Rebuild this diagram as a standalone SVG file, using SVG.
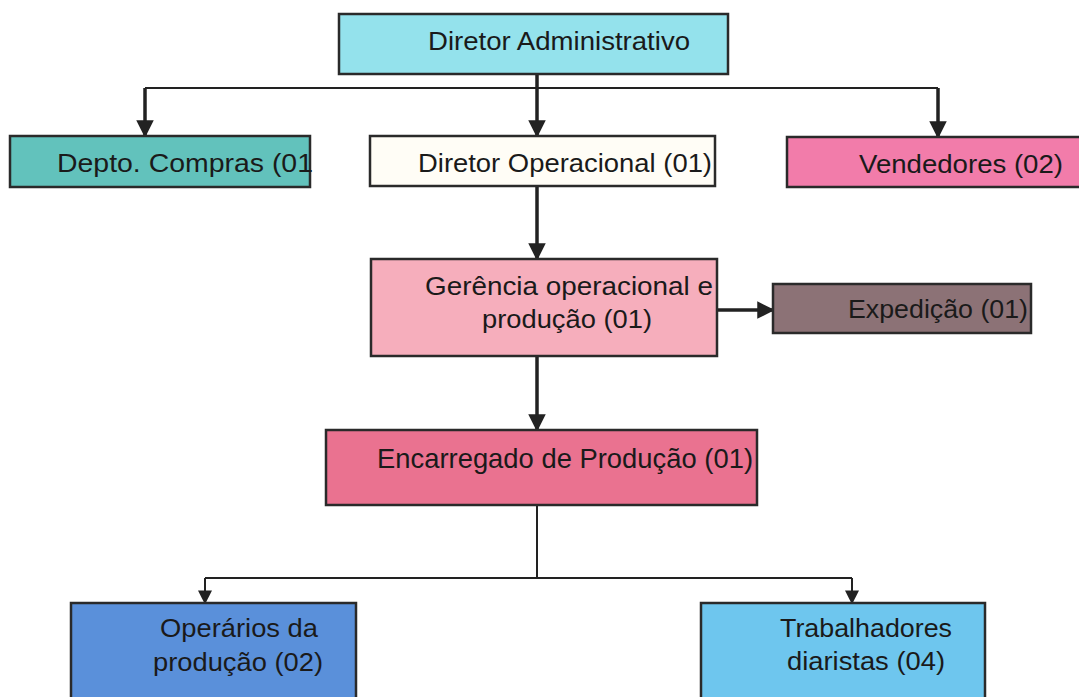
<svg xmlns="http://www.w3.org/2000/svg" width="1079" height="697" viewBox="0 0 1079 697">
<defs>
<marker id="ah" viewBox="0 0 10 10" refX="9" refY="5" markerWidth="5" markerHeight="5" orient="auto" markerUnits="strokeWidth">
<path d="M0,0 L10,5 L0,10 Z" fill="#222"/>
</marker>
<marker id="ah2" viewBox="0 0 10 10" refX="9" refY="5" markerWidth="7" markerHeight="7" orient="auto" markerUnits="strokeWidth">
<path d="M0,0 L10,5 L0,10 Z" fill="#222"/>
</marker>
</defs>
<style>
.box{stroke:#2a2a2a;stroke-width:2.5}
.t{font-family:"Liberation Sans",Arial,sans-serif;fill:#1a1a1a;font-size:26px}
.c{fill:none;stroke:#222;stroke-width:3.5}
.c2{fill:none;stroke:#222;stroke-width:2}
</style>
<rect width="1079" height="697" fill="#ffffff"/>
<g id="connectors">
<path class="c2" d="M145,88 H938"/>
<path class="c" d="M537,74 V136" marker-end="url(#ah)"/>
<path class="c" d="M145,88 V136" marker-end="url(#ah)"/>
<path class="c" d="M938,88 V137" marker-end="url(#ah)"/>
<path class="c" d="M537,186 V259" marker-end="url(#ah)"/>
<path class="c" d="M717,310 H773" marker-end="url(#ah)"/>
<path class="c" d="M537,356 V430" marker-end="url(#ah)"/>
<path class="c2" d="M537,505 V578 M205,578 H852"/>
<path class="c2" d="M205,578 V603" marker-end="url(#ah2)"/>
<path class="c2" d="M852,578 V603" marker-end="url(#ah2)"/>
</g>
<g id="diretor-administrativo">
<rect class="box" x="339" y="14" width="389" height="60" fill="#94e2ec"/>
<text class="t" x="428" y="50" textLength="262" lengthAdjust="spacingAndGlyphs">Diretor Administrativo</text>
</g>
<g id="depto-compras">
<rect class="box" x="10" y="136" width="300" height="51" fill="#62c2bc"/>
<text class="t" x="57" y="172" textLength="256" lengthAdjust="spacingAndGlyphs">Depto. Compras (01</text>
</g>
<g id="diretor-operacional">
<rect class="box" x="370" y="136" width="345" height="50" fill="#fffdf6"/>
<text class="t" x="418" y="172" textLength="294" lengthAdjust="spacingAndGlyphs">Diretor Operacional (01)</text>
</g>
<g id="vendedores">
<rect class="box" x="787" y="137" width="300" height="50" fill="#f27caa"/>
<text class="t" x="859" y="173" textLength="204" lengthAdjust="spacingAndGlyphs">Vendedores (02)</text>
</g>
<g id="gerencia">
<rect class="box" x="371" y="259" width="346" height="97" fill="#f6aebc"/>
<text class="t" x="425" y="295" textLength="288" lengthAdjust="spacingAndGlyphs">Gerência operacional e</text>
<text class="t" x="482" y="328" textLength="170" lengthAdjust="spacingAndGlyphs">produção (01)</text>
</g>
<g id="expedicao">
<rect class="box" x="773" y="284" width="258" height="49" fill="#8c7276"/>
<text class="t" x="848" y="318" textLength="180" lengthAdjust="spacingAndGlyphs">Expedição (01)</text>
</g>
<g id="encarregado">
<rect class="box" x="326" y="430" width="431" height="75" fill="#ea7290"/>
<text class="t" x="377" y="468" textLength="376" lengthAdjust="spacingAndGlyphs" style="font-size:28px">Encarregado de Produção (01)</text>
</g>
<g id="operarios">
<rect class="box" x="71" y="603" width="285" height="110" fill="#5a90da"/>
<text class="t" x="160" y="637" textLength="158" lengthAdjust="spacingAndGlyphs">Operários da</text>
<text class="t" x="153" y="671" textLength="170" lengthAdjust="spacingAndGlyphs">produção (02)</text>
</g>
<g id="trabalhadores">
<rect class="box" x="701" y="603" width="284" height="110" fill="#6ec6ee"/>
<text class="t" x="780" y="637" textLength="172" lengthAdjust="spacingAndGlyphs">Trabalhadores</text>
<text class="t" x="787" y="670" textLength="158" lengthAdjust="spacingAndGlyphs">diaristas (04)</text>
</g>
</svg>
